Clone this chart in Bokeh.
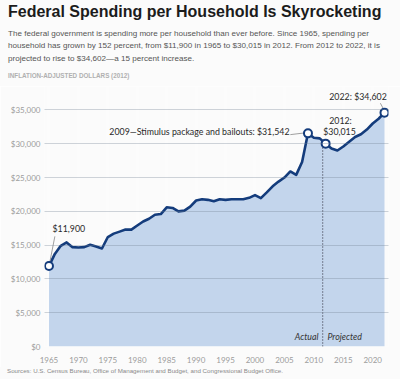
from bokeh.plotting import figure
from bokeh.models import Label, Range1d, FixedTicker, NumeralTickFormatter, Div
from bokeh.layouts import column
from bokeh.embed import file_html
from bokeh.resources import INLINE

# ---- data ----
years = list(range(1965, 2023))
spending = [11900, 13700, 14900, 15400, 14700, 14650, 14700, 15050, 14800, 14500,
            16200, 16700, 17000, 17300, 17300, 17900, 18500, 18900, 19500, 19600,
            20600, 20500, 20000, 20100, 20700, 21600, 21800, 21700, 21500, 21800,
            21700, 21800, 21800, 21800, 22000, 22400, 21950, 22800, 23700, 24400,
            25000, 25900, 25400, 27300, 31542, 30900, 30800, 30015, 29300, 29000,
            29600, 30300, 31000, 31400, 32100, 33000, 33700, 34602]
highlight_years = [1965, 2009, 2012, 2022]
highlight_vals = [spending[years.index(y)] for y in highlight_years]
x_ticks = [1965, 1970, 1975, 1980, 1985, 1990, 1995, 2000, 2005, 2010, 2015, 2020]
y_ticks = [0, 5000, 10000, 15000, 20000, 25000, 30000, 35000]
split_year = 2011.5

title = "Federal Spending per Household Is Skyrocketing"
subtitle = ["The federal government is spending more per household than ever before. Since 1965, spending per",
            "household has grown by 152 percent, from $11,900 in 1965 to $30,015 in 2012. From 2012 to 2022, it is",
            "projected to rise to $34,602\u2014a 15 percent increase."]
unit_note = "INFLATION-ADJUSTED DOLLARS (2012)"
sources = "Sources: U.S. Census Bureau, Office of Management and Budget, and Congressional Budget Office."

# ---- layout constants (page pixels) ----
W = 400
HEAD_H, MAIN_H, FOOT_H = 86, 281, 12
FL, FR, FB = 44, 388, 346                # main frame: left, right, bottom (page px)
X0, X1 = 1964.24, 2022.68
Y1 = 38473
BG = "#fbfbfb"
NAVY = "#143c7c"
SANS = "'Liberation Sans', Arial, sans-serif"

# ---- header (HTML text) ----
head_html = (
    f'<div style="position:relative;width:{W}px;height:{HEAD_H}px;">'
    f'<div style="position:absolute;left:8px;top:3.8px;font:bold 16px/16px {SANS};'
    f'color:#1c1c1c;white-space:nowrap;">{title}</div>'
    f'<div style="position:absolute;left:8px;top:27.9px;font:8.1px/12.5px {SANS};'
    f'color:#555555;white-space:nowrap;">' + "<br>".join(subtitle) + '</div>'
    f'<div style="position:absolute;left:8px;top:73.2px;font:bold 6.3px/6.3px {SANS};'
    f'color:#b0b0b0;white-space:nowrap;">{unit_note}</div>'
    '</div>'
)
head = Div(text=head_html, width=W, height=HEAD_H, margin=0,
           styles={"background-color": BG, "overflow": "hidden"})

# ---- main chart ----
frame_h = FB - HEAD_H
p = figure(width=W, height=MAIN_H, output_backend="svg", toolbar_location=None,
           x_range=Range1d(X0, X1), y_range=Range1d(0, Y1),
           min_border_left=FL, min_border_right=W - FR, min_border_top=0,
           min_border_bottom=MAIN_H - frame_h, margin=0,
           background_fill_color=BG, border_fill_color=BG, outline_line_color=None)

def px_x(X):
    return X0 + (X - FL) * (X1 - X0) / (FR - FL)

def px_y(Y):
    return (FB - Y) * Y1 / frame_h

p.varea(x=years, y1=0, y2=spending, fill_color="#c3d5ec", fill_alpha=1.0)
p.line(x=years, y=spending, line_color=NAVY, line_width=2.6, line_join="round")

p.segment(x0=[split_year], y0=[0], x1=[split_year], y1=[30350],
          line_color="#334", line_width=1.1, line_dash="1 2")

p.segment(x0=[1965.15, 2006.0], y0=[12500, 31350],
          x1=[1966.0, 2008.4], y1=[16300, 31600],
          line_color="#888", line_width=0.8)
p.segment(x0=[2021.3], y0=[36000], x1=[2021.85], y1=[35100],
          line_color="#888", line_width=0.8)

p.scatter(x=highlight_years, y=highlight_vals, size=8, marker="circle",
          fill_color="white", line_color=NAVY, line_width=2)

for ax in (p.xaxis, p.yaxis):
    ax.axis_line_color = None
    ax.major_tick_line_color = None
    ax.minor_tick_line_color = None
    ax.major_tick_out = 0
    ax.major_tick_in = 0
    ax.major_label_text_font = "Lato"
    ax.major_label_text_font_size = "8px"
    ax.major_label_text_color = "#9c9c9c"
p.xaxis.ticker = FixedTicker(ticks=x_ticks)
p.yaxis.ticker = FixedTicker(ticks=y_ticks)
p.yaxis.formatter = NumeralTickFormatter(format="$0,0")
p.xaxis.major_label_standoff = 10
p.yaxis.major_label_standoff = 4

p.ygrid.ticker = FixedTicker(ticks=y_ticks)
p.ygrid.grid_line_color = "#6f7f92"
p.ygrid.grid_line_alpha = 0.33
p.ygrid.grid_line_width = 1
p.ygrid.level = "guide"
p.xgrid.ticker = FixedTicker(ticks=x_ticks)
p.xgrid.grid_line_color = "white"
p.xgrid.grid_line_alpha = 0.25
p.xgrid.grid_line_width = 3

def lab(X, Y, text, align="left", size="8.8px", color="#2a2a2a", style="normal"):
    p.add_layout(Label(x=px_x(X), y=px_y(Y), text=text, text_align=align,
                       text_baseline="middle", text_font="Lato", text_font_size=size,
                       text_color=color, text_font_style=style))

lab(52, 228, "$11,900")
lab(289, 130.7, "2009\u2014Stimulus package and bailouts: $31,542", align="right")
lab(340, 120, "2012:", align="center")
lab(339, 130.5, "$30,015", align="center")
lab(357.5, 95.7, "2022: $34,602", align="center")
lab(318, 336, "Actual", align="right", style="italic", color="#333")
lab(327, 336, "Projected", align="left", style="italic", color="#333")

# ---- footer (HTML text) ----
foot_html = (
    f'<div style="position:relative;width:{W}px;height:{FOOT_H}px;">'
    f'<div style="position:absolute;left:7px;top:1.3px;font:6.2px/6.2px {SANS};'
    f'color:#8a8a8a;white-space:nowrap;">{sources}</div></div>'
)
foot = Div(text=foot_html, width=W, height=FOOT_H, margin=0,
           styles={"background-color": BG, "overflow": "hidden"})

layout = column(head, p, foot, spacing=0)
open("out.html", "w").write(file_html(layout, INLINE))
